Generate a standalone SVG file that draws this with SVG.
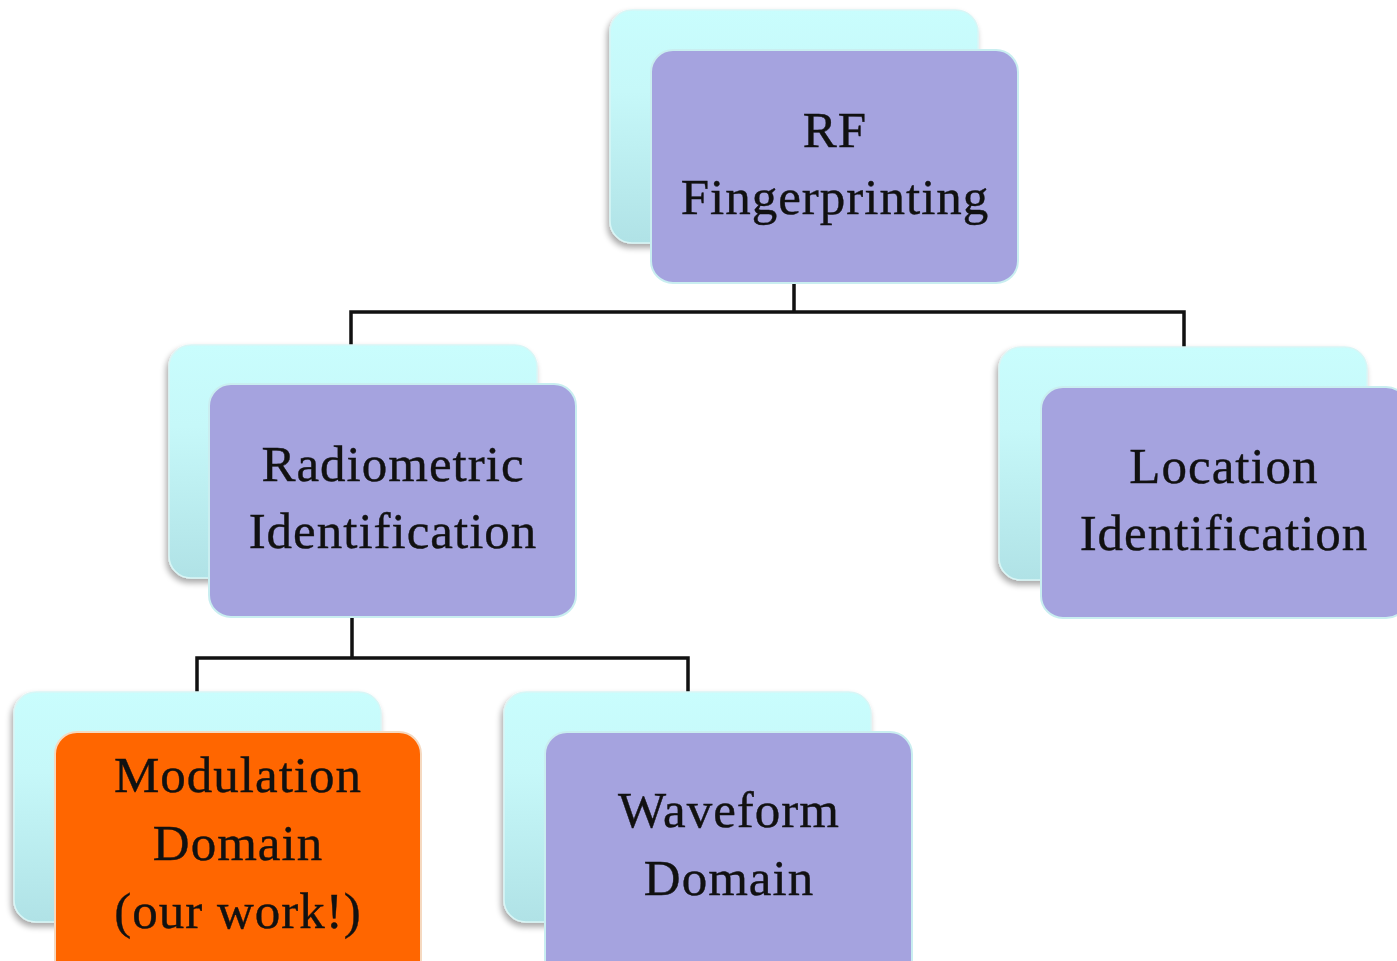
<svg xmlns="http://www.w3.org/2000/svg" width="1397" height="961" viewBox="0 0 1397 961">
<defs>
<linearGradient id="bg" x1="0" y1="0" x2="0" y2="1">
<stop offset="0" stop-color="#C9FDFD"/>
<stop offset="0.35" stop-color="#C6F8F9"/>
<stop offset="1" stop-color="#B0E2E6"/>
</linearGradient>
<filter id="sh" x="-10%" y="-10%" width="120%" height="125%">
<feGaussianBlur in="SourceAlpha" stdDeviation="3"/>
<feOffset dx="-2" dy="4" result="b"/>
<feComponentTransfer><feFuncA type="linear" slope="0.35"/></feComponentTransfer>
<feMerge><feMergeNode/><feMergeNode in="SourceGraphic"/></feMerge>
</filter>
</defs>
<style>
.back{fill:url(#bg);stroke:#D8F6F6;stroke-width:1.5;filter:url(#sh)}
.front{fill:#A5A3DF;stroke:#C9EEF0;stroke-width:2}
.hot{fill:#FF6600;stroke:#F5D9C0;stroke-width:2}
.t{font-family:"Liberation Serif","Times New Roman",serif;font-size:51px;letter-spacing:1px;fill:#111;stroke:#111;stroke-width:0.4;text-anchor:middle}
.c{fill:none;stroke:#111;stroke-width:3.5}
</style>
<rect width="1397" height="961" fill="#fff"/>
<g id="connectors">
<path class="c" d="M794 283 V312 M351 345 V312 H1184 V347"/>
<path class="c" d="M352 617 V658 M197 692 V658 H688 V692"/>
</g>
<g id="rf">
<rect class="back" x="610" y="10" width="368" height="233" rx="22"/>
<rect class="front" x="651" y="50" width="367" height="233" rx="22"/>
<text class="t" x="835" y="147">RF</text>
<text class="t" x="835" y="214">Fingerprinting</text>
</g>
<g id="radiometric">
<rect class="back" x="169" y="345" width="368" height="233" rx="22"/>
<rect class="front" x="209" y="384" width="367" height="233" rx="22"/>
<text class="t" x="393" y="481">Radiometric</text>
<text class="t" x="393" y="548">Identification</text>
</g>
<g id="location">
<rect class="back" x="999" y="347" width="368" height="233" rx="22"/>
<rect class="front" x="1041" y="387" width="367" height="231" rx="22"/>
<text class="t" x="1224" y="483">Location</text>
<text class="t" x="1224" y="550">Identification</text>
</g>
<g id="modulation">
<rect class="back" x="14" y="692" width="367" height="230" rx="22"/>
<rect class="hot" x="55" y="732" width="366" height="250" rx="22"/>
<text class="t" x="238" y="792">Modulation</text>
<text class="t" x="238" y="860">Domain</text>
<text class="t" x="238" y="928">(our work!)</text>
</g>
<g id="waveform">
<rect class="back" x="504" y="692" width="367" height="230" rx="22"/>
<rect class="front" x="545" y="732" width="367" height="250" rx="22"/>
<text class="t" x="729" y="827">Waveform</text>
<text class="t" x="729" y="895">Domain</text>
</g>
</svg>
